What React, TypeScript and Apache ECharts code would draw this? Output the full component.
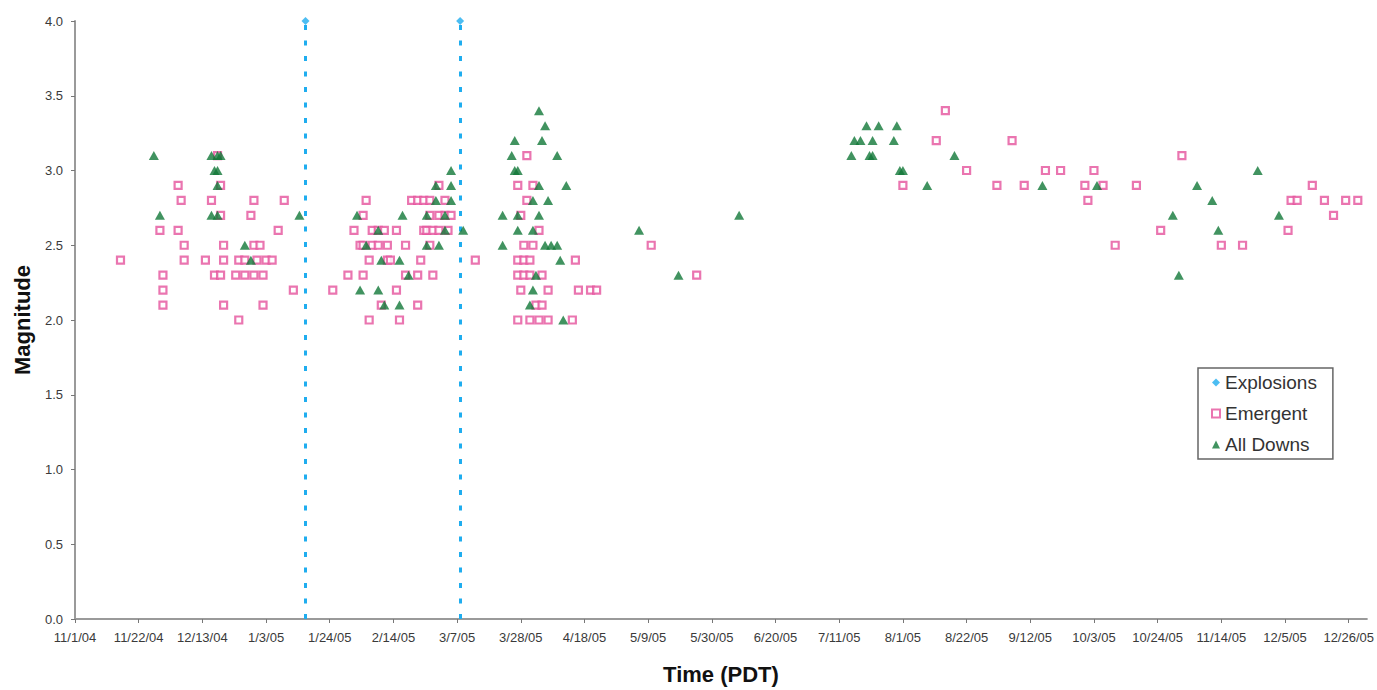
import React, { useEffect, useRef } from "react";
import * as echarts from "echarts";

// Time is measured in days counted from 11/1/04 (PDT).
const START_UTC = Date.UTC(2004, 10, 1);
const DAY_MS = 86400000;
const X_MAX_DAYS = 426;
const X_TICK_DAYS = 21;

const Y_MIN = 0;
const Y_MAX = 4;
const Y_TICK = 0.5;

const seriesNames = ["Explosions", "Emergent", "All Downs"];

// Explosion days (1/16/05 and 3/8/05), flagged at the top of the magnitude scale
const explosionDays = [76, 127];
const explosionLevel = 4.0;

// [day, magnitude]
const emergent: [number, number][] = [
  [15, 2.4],
  [28, 2.6], [29, 2.3], [29, 2.2], [29, 2.1],
  [34, 2.9], [34, 2.6], [35, 2.8], [36, 2.5], [36, 2.4],
  [43, 2.4], [45, 2.8], [46, 2.3], [47, 3.1], [48, 2.9], [48, 2.7], [48, 2.3],
  [49, 2.5], [49, 2.4], [49, 2.1],
  [53, 2.3], [54, 2.4], [54, 2.0], [56, 2.4], [56, 2.3], [58, 2.7], [59, 2.8],
  [59, 2.5], [59, 2.3], [60, 2.4], [61, 2.5], [62, 2.3], [62, 2.1], [63, 2.4],
  [65, 2.4], [67, 2.6], [69, 2.8], [72, 2.2],
  [85, 2.2], [90, 2.3], [92, 2.6], [94, 2.5], [95, 2.7], [95, 2.5], [95, 2.3],
  [96, 2.8], [97, 2.4], [97, 2.0], [98, 2.6], [98, 2.5], [100, 2.6], [100, 2.5],
  [101, 2.1], [102, 2.6], [103, 2.5], [103, 2.4], [104, 2.4], [106, 2.6],
  [106, 2.2], [107, 2.0], [109, 2.5], [109, 2.3], [111, 2.8], [113, 2.8],
  [113, 2.3], [113, 2.1], [114, 2.4], [115, 2.8], [115, 2.6], [116, 2.6],
  [117, 2.8], [117, 2.7], [117, 2.5], [118, 2.6], [118, 2.3], [120, 2.9],
  [120, 2.7], [120, 2.6], [122, 2.8], [122, 2.7], [123, 2.6], [124, 2.7],
  [132, 2.4],
  [146, 2.9], [146, 2.4], [146, 2.3], [146, 2.0], [147, 2.7], [147, 2.2],
  [148, 2.5], [148, 2.4], [148, 2.3], [149, 3.1], [149, 2.8], [150, 2.4],
  [150, 2.3], [150, 2.0], [151, 2.9], [151, 2.5], [152, 2.1], [153, 2.6],
  [153, 2.0], [154, 2.3], [154, 2.1], [156, 2.2], [156, 2.0], [164, 2.0],
  [165, 2.4], [166, 2.2], [170, 2.2], [172, 2.2],
  [190, 2.5], [205, 2.3],
  [273, 2.9], [284, 3.2], [287, 3.4], [294, 3.0], [304, 2.9], [309, 3.2],
  [313, 2.9], [320, 3.0], [325, 3.0], [333, 2.9], [334, 2.8], [336, 3.0],
  [339, 2.9], [343, 2.5], [350, 2.9], [358, 2.6], [365, 3.1], [378, 2.5],
  [385, 2.5], [400, 2.6], [401, 2.8], [403, 2.8], [408, 2.9], [412, 2.8],
  [415, 2.7], [419, 2.8], [423, 2.8],
];

// [day, magnitude]
const allDowns: [number, number][] = [
  [26, 3.1], [28, 2.7], [45, 3.1], [47, 3.1], [48, 3.1], [46, 3.0], [47, 3.0],
  [47, 2.9], [45, 2.7], [47, 2.7], [56, 2.5], [58, 2.4], [74, 2.7],
  [93, 2.7], [94, 2.2], [96, 2.5], [100, 2.6], [100, 2.2], [101, 2.4],
  [102, 2.1], [107, 2.4], [107, 2.1], [108, 2.7], [110, 2.3], [116, 2.7],
  [116, 2.5], [119, 2.9], [119, 2.8], [120, 2.5], [122, 2.7], [122, 2.6],
  [124, 3.0], [124, 2.9], [124, 2.8], [128, 2.6],
  [141, 2.7], [141, 2.5], [144, 3.1], [145, 3.2], [145, 3.0], [146, 3.0],
  [146, 2.7], [146, 2.6], [150, 2.1], [151, 2.8], [151, 2.6], [151, 2.2],
  [152, 2.3], [153, 3.4], [153, 2.9], [153, 2.7], [154, 3.2], [155, 3.3],
  [155, 2.5], [156, 2.8], [157, 2.5], [159, 3.1], [159, 2.5], [160, 2.4],
  [161, 2.0], [162, 2.9],
  [186, 2.6], [199, 2.3], [219, 2.7],
  [256, 3.1], [257, 3.2], [259, 3.2], [261, 3.3], [262, 3.1], [263, 3.2],
  [263, 3.1], [265, 3.3], [270, 3.2], [271, 3.3], [272, 3.0], [273, 3.0],
  [281, 2.9], [290, 3.1], [319, 2.9], [337, 2.9], [362, 2.7], [364, 2.3],
  [370, 2.9], [375, 2.8], [377, 2.6], [390, 3.0], [397, 2.7],
];

const FONT = "Arial, 'Liberation Sans', sans-serif";
const BLUE = "#1fadef";
const PINK = "#e5529c";
const GREEN = "#127838";

function dayLabel(days: number): string {
  const d = new Date(START_UTC + days * DAY_MS);
  const yy = String(d.getUTCFullYear()).slice(2);
  return `${d.getUTCMonth() + 1}/${d.getUTCDate()}/${yy}`;
}

export default function App() {
  const ref = useRef<HTMLDivElement>(null);

  useEffect(() => {
    if (!ref.current) return;
    const chart = echarts.init(ref.current, undefined, { renderer: "svg" });

    chart.setOption({
      animation: false,
      backgroundColor: "#ffffff",
      grid: { left: 75, right: 6, top: 21, bottom: 65, containLabel: false },
      legend: {
        orient: "vertical",
        left: 1198,
        top: 368,
        padding: [5, 16, 5, 13],
        itemGap: 12,
        itemWidth: 8,
        itemHeight: 8,
        borderColor: "#666",
        borderWidth: 1.5,
        backgroundColor: "#fff",
        data: seriesNames,
        textStyle: { fontFamily: FONT, fontSize: 19, color: "#333" },
      },
      xAxis: {
        type: "value",
        min: 0,
        max: X_MAX_DAYS,
        interval: X_TICK_DAYS,
        name: "Time (PDT)",
        nameLocation: "middle",
        nameGap: 44,
        nameTextStyle: { fontFamily: FONT, fontSize: 22, fontWeight: "bold", color: "#111" },
        axisLine: { show: true, lineStyle: { color: "#9a9a9a", width: 2 } },
        axisTick: { show: true, length: 4, lineStyle: { color: "#777" } },
        axisLabel: {
          fontFamily: FONT,
          fontSize: 13,
          color: "#3a3a3a",
          margin: 12,
          showMaxLabel: false,
          formatter: (v: number) => (v % X_TICK_DAYS === 0 ? dayLabel(v) : ""),
        },
        splitLine: { show: false },
      },
      yAxis: {
        type: "value",
        min: Y_MIN,
        max: Y_MAX,
        interval: Y_TICK,
        name: "Magnitude",
        nameLocation: "middle",
        nameGap: 42,
        nameRotate: 90,
        nameTextStyle: { fontFamily: FONT, fontSize: 22, fontWeight: "bold", color: "#111" },
        axisLine: { show: true, lineStyle: { color: "#9a9a9a", width: 2 } },
        axisTick: { show: true, length: 4, lineStyle: { color: "#777" } },
        axisLabel: {
          fontFamily: FONT,
          fontSize: 13,
          color: "#3a3a3a",
          margin: 12,
          formatter: (v: number) => v.toFixed(1),
        },
        splitLine: { show: false },
      },
      series: [
        {
          name: "Explosions",
          type: "scatter",
          symbol: "diamond",
          symbolSize: 8,
          itemStyle: { color: BLUE },
          data: explosionDays.map((d) => [d, explosionLevel]),
          z: 3,
          markLine: {
            silent: true,
            symbol: "none",
            label: { show: false },
            lineStyle: { color: BLUE, width: 3, type: [5, 10.5] },
            data: explosionDays.map((d) => ({ xAxis: d })),
          },
        },
        {
          name: "Emergent",
          type: "scatter",
          symbol: "rect",
          symbolSize: 7,
          itemStyle: { color: "#ffffff", borderColor: PINK, borderWidth: 2.2 },
          data: emergent,
          z: 4,
        },
        {
          name: "All Downs",
          type: "scatter",
          symbol: "triangle",
          symbolSize: [10, 9],
          itemStyle: { color: GREEN },
          data: allDowns,
          z: 5,
        },
      ],
    });

    return () => chart.dispose();
  }, []);

  return (
    <div
      ref={ref}
      style={{ position: "fixed", left: 0, top: 0, width: 1377, height: 690, background: "#fff" }}
    />
  );
}
